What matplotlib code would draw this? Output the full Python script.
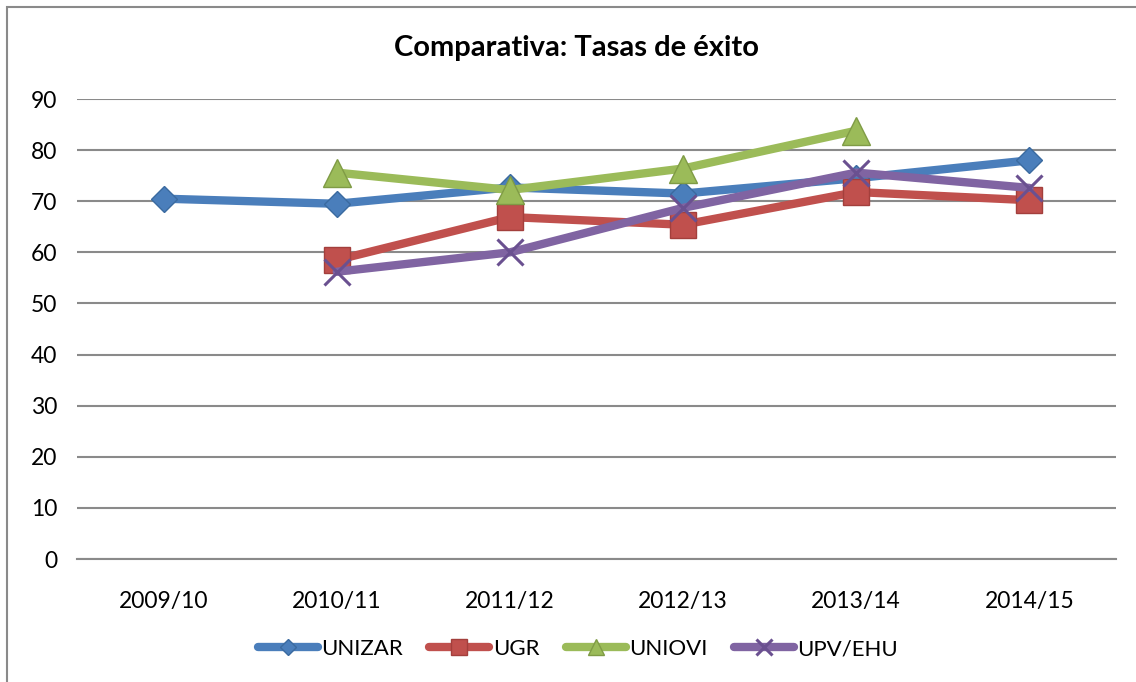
import matplotlib
matplotlib.use("Agg")
import matplotlib.pyplot as plt
import matplotlib.patches as mpatches
import numpy as np

plt.rcParams['font.family'] = ['Lato', 'DejaVu Sans']

categories = ["2009/10", "2010/11", "2011/12", "2012/13", "2013/14", "2014/15"]
unizar = [70.5, 69.5, 72.7, 71.5, 74.5, 78.0]
ugr = [np.nan, 58.5, 66.9, 65.4, 71.8, 70.2]
uniovi = [np.nan, 75.6, 72.2, 76.4, 83.8, np.nan]
upv_ehu = [np.nan, 56.2, 60.0, 68.7, 75.6, 72.6]
series_names = ["UNIZAR", "UGR", "UNIOVI", "UPV/EHU"]
yticks = [0, 10, 20, 30, 40, 50, 60, 70, 80, 90]
title = "Comparativa: Tasas de éxito"

W, H = 1136, 682
fig = plt.figure(figsize=(W / 100, H / 100), dpi=100)

# chart frame
fig.patches.append(mpatches.Rectangle((7 / W, -0.05), 1.2, 1 - 7 / H + 0.05,
                                      transform=fig.transFigure, fill=False,
                                      edgecolor="#8a8a8a", linewidth=1.5))

ax = fig.add_axes([77 / W, (H - 559) / H, (1116 - 77) / W, (559 - 99) / H])
x = np.arange(len(categories))

styles = [
    (unizar, "#4a7ebb", "D", 13.5, "#3a6aa0", 2),
    (ugr, "#c0504d", "s", 19, "#a33f3c", 2),
    (uniovi, "#9bbb59", "^", 20, "#7f9b45", 2),
    (upv_ehu, "#8064a2", "x", 19, "#6a5090", 2.2),
]
for (vals, col, mk, ms, ec, mew), name in zip(styles, series_names):
    ax.plot(x, vals, color=col, lw=6, marker=mk, markersize=ms,
            markerfacecolor=col, markeredgecolor=ec,
            markeredgewidth=mew if mk == "x" else 1, label=name,
            solid_capstyle="round", solid_joinstyle="round")

ax.set_xlim(-0.5, len(categories) - 0.5)
ax.set_ylim(0, 90)
ax.set_yticks(yticks)
ax.set_xticks(x)
ax.set_xticklabels(categories)
ax.yaxis.grid(True, color="#8a8a8a", lw=1.5)
ax.set_axisbelow(True)
for s in ["top", "right", "left"]:
    ax.spines[s].set_visible(False)
ax.spines["bottom"].set_color("#8a8a8a")
ax.spines["bottom"].set_linewidth(1.5)
ax.tick_params(axis="both", length=0, labelsize=16.5, colors="black")
ax.tick_params(axis="y", pad=14)
ax.tick_params(axis="x", pad=23)

fig.text(576 / W, 1 - 48 / H, title, ha="center", va="center",
         fontsize=21, fontweight="bold")

fig.legend(loc="center", bbox_to_anchor=(578 / W, 1 - 649 / H), ncol=4,
           frameon=False, fontsize=16, handlelength=2.7, handletextpad=0.15,
           columnspacing=1.2, markerscale=0.6)

fig.savefig("out.png", dpi=100)
